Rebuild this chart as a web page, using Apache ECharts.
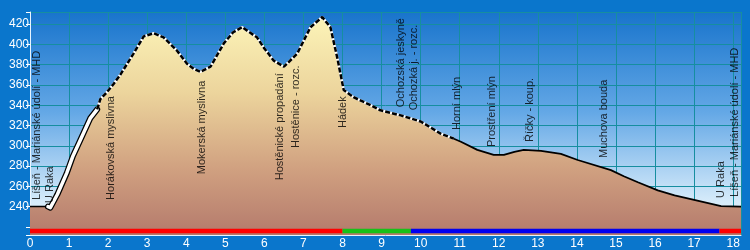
<!DOCTYPE html>
<html><head><meta charset="utf-8">
<script src="https://cdn.jsdelivr.net/npm/echarts@6/dist/echarts.min.js"></script>
<style>html,body{margin:0;padding:0;background:#0a76cc}#c{width:750px;height:250px}</style>
</head><body><div id="c"></div>
<script>
// distance [km]
const distKm = [0, 0.46, 0.52, 0.7, 0.94, 1.1, 1.28, 1.54, 1.72, 1.8, 1.95, 2.14, 2.31, 2.65, 2.91, 3.17, 3.42, 3.76, 4.02, 4.19, 4.36, 4.62, 4.96, 5.2, 5.43, 5.81, 6.0, 6.24, 6.5, 6.84, 7.18, 7.48, 7.69, 7.87, 8.03, 8.28, 8.72, 8.97, 9.49, 10.0, 10.51, 10.85, 11.03, 11.45, 11.87, 12.13, 12.4, 12.64, 13.08, 13.59, 14.02, 14.87, 15.2, 15.56, 16.07, 16.5, 17.0, 17.69, 18.2];
// elevation [m]
const elevM = [240, 240, 239, 252, 273, 290, 305, 327, 336, 346, 352, 361, 370, 391, 408, 411, 407, 394, 381, 376, 373, 378, 401, 412, 417, 407, 396, 384, 378, 391, 417, 427, 417, 386, 355, 348, 340, 335, 330, 324, 312, 307, 304, 296, 291, 291, 294, 296, 295, 292, 286, 276, 270, 264, 256, 251, 246.6, 240.5, 240];
// line style breakpoints [km]
const whiteFrom = 0.46, dashFrom = 1.72, solidFrom = 10.85;
// waypoint labels
const wpNames = ['Líšeň - Mariánské údolí - MHD', 'U Raka', 'Horákovská myslivna', 'Mokerská myslivna', 'Hostěnické propadání', 'Hostěnice - rozc.', 'Hádek', 'Ochozská jeskyně', 'Ochozká j. - rozc.', 'Horní mlýn', 'Prostření mlýn', 'Říčky - koup.', 'Muchova bouda', 'U Raka', 'Líšeň - Mariánské údolí - MHD'];
const wpKm = [0.18, 0.52, 2.08, 4.4, 6.4, 6.8, 8.0, 9.5, 9.82, 10.92, 11.82, 12.8, 14.7, 17.7, 18.04];
const wpLabelM = [246.6, 243.6, 246.6, 272, 266, 297.8, 317.5, 338, 335, 315.6, 298.8, 303.7, 288, 248.6, 249.6];
// colored route band
const bandKm = [0, 8, 9.75, 17.65, 18.2];
const bandM = 216;
const yTicks = [240, 260, 280, 300, 320, 340, 360, 380, 400, 420];

const profile = distKm.map((d, i) => [d, elevM[i]]);
const seg = (a, b) => profile.filter(p => p[0] >= a && p[0] <= b);
const bandColors = ['#ff0000', '#18c018', '#0000f0', '#ff0000'];

const series = [];
series.push({
  type: 'line', data: profile, symbol: 'none', silent: true, z: 2,
  lineStyle: { width: 0 },
  areaStyle: { opacity: 1, origin: 'start', color: new echarts.graphic.LinearGradient(0, 0, 0, 1, [
    { offset: 0, color: '#fcf4b8' }, { offset: 0.35, color: '#ecd49c' }, { offset: 0.7, color: '#d0a080' }, { offset: 1, color: '#b47a6c' }]) }
});
series.push({ type: 'line', data: seg(0, whiteFrom + 0.06), symbol: 'none', z: 3, lineStyle: { color: '#000', width: 1.5 } });
series.push({ type: 'line', data: seg(whiteFrom, dashFrom), symbol: 'none', z: 3, lineStyle: { color: '#000', width: 6, cap: 'round', join: 'round' } });
series.push({ type: 'line', data: seg(whiteFrom, dashFrom), symbol: 'none', z: 4, lineStyle: { color: '#fff', width: 3.5, cap: 'round', join: 'round' } });
series.push({ type: 'line', data: seg(dashFrom, solidFrom), symbol: 'none', z: 3, lineStyle: { color: '#fff', width: 2.5 } });
series.push({ type: 'line', data: seg(dashFrom, solidFrom), symbol: 'none', z: 4, lineStyle: { color: '#000', width: 2.5, type: [5, 2] } });
series.push({ type: 'line', data: seg(solidFrom, 99), symbol: 'none', z: 3, lineStyle: { color: '#000', width: 1.8 } });
for (let i = 0; i < bandKm.length - 1; i++) {
  series.push({ type: 'line', data: [[bandKm[i], bandM], [bandKm[i + 1], bandM]], symbol: 'none', z: 5,
    lineStyle: { color: bandColors[i], width: 4.5, cap: 'butt' } });
}
series.push({
  type: 'scatter', symbolSize: 0, z: 6, silent: true,
  data: wpKm.map((d, i) => ({ value: [d, wpLabelM[i]], name: wpNames[i] })),
  label: { show: true, position: 'inside', formatter: p => p.name, rotate: 90, align: 'left', verticalAlign: 'middle',
    color: '#000', fontSize: 11, fontFamily: 'Arial, Liberation Sans, sans-serif' }
});

const chart = echarts.init(document.getElementById('c'), null, { renderer: 'canvas' });
chart.setOption({
  backgroundColor: '#0a76cc',
  animation: false,
  grid: { left: 30, right: 9, top: 12, bottom: 15, show: true, borderWidth: 0,
    backgroundColor: new echarts.graphic.LinearGradient(0, 0, 0, 1, [
      { offset: 0, color: '#1874cc' }, { offset: 0.45, color: '#64a8e6' }, { offset: 0.85, color: '#d6ebfa' }, { offset: 1, color: '#eef7fe' }]) },
  xAxis: {
    type: 'value', min: 0, max: 18.2, interval: 1,
    axisLine: { lineStyle: { color: '#e8f4ff', width: 1 } },
    axisTick: { show: false },
    axisLabel: { color: '#fff', fontSize: 12, fontFamily: 'Arial, Liberation Sans, sans-serif', margin: 3,
      formatter: v => Number.isInteger(v) ? String(v) : '' },
    splitLine: { show: true, lineStyle: { color: '#168ea0', width: 1 } }
  },
  yAxis: {
    type: 'value', min: 212, max: 432, minInterval: 20, maxInterval: 20, splitNumber: 11,
    axisLine: { show: true, lineStyle: { color: '#e8f4ff', width: 1 } },
    axisTick: { show: true, length: 4, lineStyle: { color: '#fff' } },
    axisLabel: { color: '#fff', fontSize: 12, fontFamily: 'Arial, Liberation Sans, sans-serif', margin: 1,
      formatter: v => yTicks.includes(v) ? String(v) : '' },
    splitLine: { show: true, lineStyle: { color: '#168ea0', width: 1 } }
  },
  series: series
});
</script></body></html>
